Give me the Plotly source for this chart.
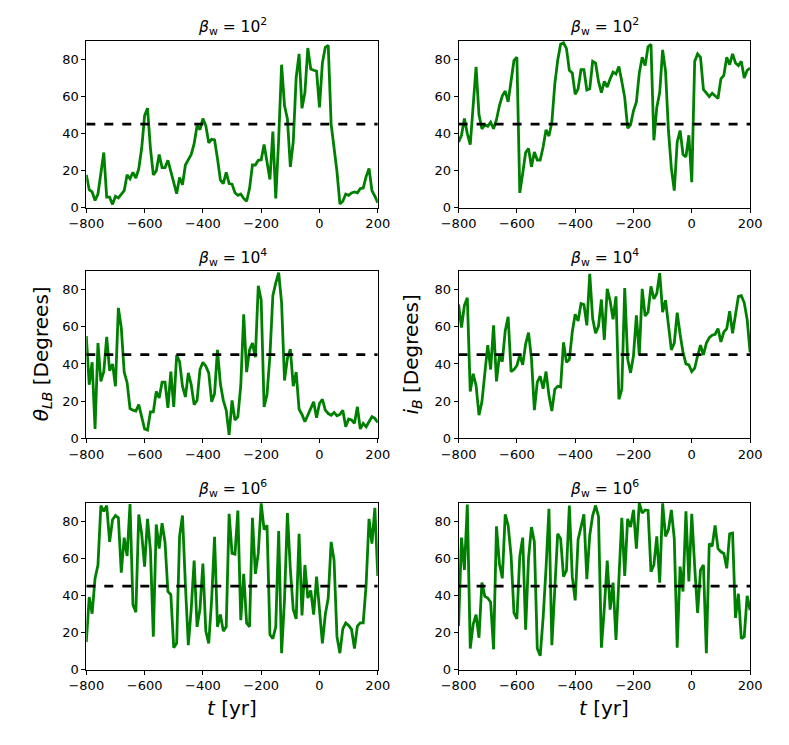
# Six panels of field angle vs time for three wind betas

import plotly.graph_objects as go

# Time axis (yr), one sample every 10 yr
years = list(range(-800, 201, 10))

# Left column: theta_LB
theta_b2 = [17.7, 9.7, 8.5, 3.9, 7.4, 17.7, 29.7, 5.7, 5.7, 1.8,
            6.2, 5.3, 7.0, 9.2, 17.7, 15.6, 19.0, 16.0, 21.0, 32.0,
            49.6, 53.6, 32.0, 17.7, 19.8, 28.7, 21.6, 21.6, 25.5, 19.5,
            12.4, 7.6, 16.3, 12.4, 23.0, 26.0, 28.7, 34.5, 44.2, 42.0,
            48.0, 44.2, 35.0, 36.8, 36.5, 26.5, 15.0, 13.0, 19.0, 13.0,
            12.7, 8.1, 6.7, 7.4, 5.0, 3.5, 10.3, 23.0, 23.0, 25.5,
            25.8, 34.0, 24.8, 15.2, 41.0, 5.0, 37.0, 77.0, 55.0, 47.8,
            22.0, 35.4, 70.0, 82.8, 53.5, 62.0, 86.0, 74.7, 74.0, 73.6,
            54.0, 78.0, 86.4, 87.4, 45.0, 33.6, 19.5, 2.1, 3.5, 7.4,
            6.7, 8.0, 8.5, 8.0, 10.3, 10.6, 16.8, 21.2, 9.2, 6.2,
            2.7]
theta_b4 = [55.0, 28.8, 40.9, 5.0, 51.2, 30.6, 35.9, 54.6, 36.4, 40.0,
            28.0, 70.2, 59.5, 35.6, 29.9, 16.0, 15.1, 14.6, 18.1, 11.6,
            5.0, 4.4, 14.2, 14.2, 25.2, 21.7, 30.2, 30.2, 16.4, 35.9,
            16.9, 44.8, 41.2, 28.0, 22.2, 35.2, 28.8, 18.1, 20.4, 37.0,
            40.9, 38.8, 35.2, 19.6, 24.0, 47.6, 29.3, 20.4, 15.1, 1.8,
            20.4, 9.8, 11.6, 28.4, 66.7, 35.6, 47.6, 51.2, 43.6, 82.1,
            74.3, 16.9, 23.5, 44.4, 76.8, 83.6, 89.2, 72.9, 31.1, 43.0,
            48.0, 28.0, 35.6, 15.6, 12.8, 8.9, 12.4, 16.0, 19.6, 11.0,
            18.7, 21.0, 15.1, 13.3, 12.4, 13.9, 12.1, 12.8, 15.1, 6.2,
            10.3, 9.8, 8.0, 16.9, 5.0, 8.0, 6.2, 8.9, 11.6, 10.7,
            8.5]
theta_b6 = [14.9, 39.1, 30.2, 49.2, 56.4, 88.4, 85.3, 88.4, 68.8, 80.7,
            83.0, 81.8, 52.3, 71.1, 61.2, 89.2, 35.0, 30.9, 83.6, 73.2,
            55.5, 81.2, 64.4, 17.8, 78.2, 65.2, 78.9, 68.8, 42.1, 40.4,
            11.9, 14.2, 71.8, 83.0, 45.7, 13.2, 32.7, 58.7, 23.1, 32.7,
            57.2, 20.8, 14.2, 37.7, 71.5, 23.1, 29.7, 20.8, 23.1, 83.9,
            62.6, 62.2, 85.7, 26.7, 51.6, 25.2, 23.1, 81.8, 51.6, 62.6,
            89.6, 75.4, 77.7, 19.0, 16.7, 23.1, 74.7, 8.9, 37.7, 84.3,
            54.0, 32.4, 27.4, 73.2, 29.2, 56.4, 38.6, 42.7, 29.7, 50.1,
            32.4, 14.2, 29.7, 38.6, 68.8, 59.0, 17.8, 8.9, 22.0, 25.2,
            23.8, 21.7, 11.4, 23.5, 25.2, 25.2, 45.7, 81.2, 67.9, 87.1,
            50.5]

# Right column: i_B
inc_b2 = [35.4, 39.0, 48.0, 39.8, 34.0, 56.6, 75.8, 50.0, 42.5, 44.6,
          43.9, 46.0, 42.5, 47.4, 54.9, 60.2, 62.8, 57.0, 69.0, 79.3,
          81.0, 8.0, 18.6, 29.7, 31.9, 22.0, 30.0, 25.7, 25.7, 32.7,
          42.0, 38.6, 46.0, 66.4, 79.3, 88.0, 88.8, 85.8, 74.0, 72.6,
          61.0, 64.0, 74.3, 74.3, 63.4, 64.0, 78.8, 77.9, 68.0, 62.0,
          68.0, 65.0, 69.4, 73.0, 72.0, 76.0, 68.0, 59.3, 42.8, 44.6,
          52.2, 57.0, 72.6, 81.0, 76.5, 86.7, 88.0, 36.3, 54.0, 62.0,
          85.0, 73.5, 41.6, 21.2, 9.2, 35.4, 41.6, 28.7, 27.4, 39.0,
          13.8, 78.8, 82.8, 81.0, 63.7, 62.0, 59.8, 61.6, 60.2, 58.8,
          69.4, 71.2, 81.0, 77.0, 82.8, 77.9, 76.5, 78.8, 69.9, 74.0,
          75.2]
inc_b4 = [72.0, 59.6, 71.5, 75.6, 25.2, 34.7, 28.4, 12.4, 19.6, 35.6,
          50.1, 37.0, 60.8, 30.6, 44.4, 41.2, 57.8, 65.4, 35.9, 37.0,
          39.1, 44.8, 39.5, 50.7, 56.9, 43.0, 15.1, 30.2, 33.4, 26.7,
          35.9, 23.1, 14.6, 26.3, 28.0, 27.6, 51.6, 40.9, 42.3, 57.2,
          66.7, 63.1, 72.5, 72.0, 60.8, 88.5, 64.4, 56.5, 60.4, 74.7,
          53.0, 80.4, 73.8, 64.0, 76.4, 21.0, 26.3, 80.9, 42.7, 35.2,
          44.4, 66.1, 44.8, 80.4, 65.8, 67.9, 81.8, 75.0, 77.9, 88.9,
          67.9, 74.3, 62.2, 47.6, 51.2, 67.6, 56.0, 46.2, 40.0, 39.5,
          35.9, 37.7, 44.4, 50.1, 44.8, 51.2, 54.2, 55.5, 56.0, 59.0,
          51.9, 57.2, 59.0, 68.4, 56.5, 65.4, 76.4, 76.8, 72.9, 64.0,
          46.2]
inc_b6 = [23.5, 71.1, 53.7, 88.9, 11.4, 24.4, 29.7, 17.2, 46.9, 39.5,
          38.6, 36.3, 11.0, 77.2, 57.2, 49.2, 83.6, 77.7, 61.7, 30.6,
          27.4, 61.2, 71.1, 21.5, 59.9, 76.8, 68.8, 11.4, 7.5, 27.9,
          54.6, 86.6, 13.2, 40.4, 73.2, 70.6, 50.1, 53.3, 88.4, 50.1,
          37.3, 70.0, 77.7, 83.6, 48.7, 72.4, 83.0, 88.4, 82.5, 11.9,
          33.2, 58.7, 32.4, 46.9, 16.0, 46.6, 81.8, 50.5, 81.2, 76.8,
          86.0, 65.2, 89.8, 84.3, 86.0, 85.7, 52.8, 56.4, 71.8, 46.9,
          89.6, 71.8, 75.4, 86.0, 70.6, 11.9, 55.5, 42.1, 85.3, 47.5,
          83.9, 55.5, 30.6, 53.7, 56.4, 8.9, 67.9, 66.5, 77.7, 65.2,
          63.5, 62.6, 54.6, 73.2, 73.6, 27.9, 40.9, 16.7, 17.8, 39.8,
          32.0]

titles = ["<i>β</i><sub>w</sub> = 10<sup>2</sup>",
          "<i>β</i><sub>w</sub> = 10<sup>4</sup>",
          "<i>β</i><sub>w</sub> = 10<sup>6</sup>"]
xticks = [-800, -600, -400, -200, 0, 200]
xticklabels = ["\u2212800", "\u2212600", "\u2212400", "\u2212200", "0", "200"]
yticks = [0, 20, 40, 60, 80]
threshold = 45

W, H = 789, 745
col_px = [(71, 374), (458, 761)]
row_px = [(41, 210), (274, 443), (508, 677)]


def px(v):
    return v / W


def py(v):
    return 1 - v / H


fig = go.Figure()

panels = [[theta_b2, inc_b2], [theta_b4, inc_b4], [theta_b6, inc_b6]]

n = 0
for r in range(3):
    for c in range(2):
        n += 1
        xa = "x" if n == 1 else "x%d" % n
        ya = "y" if n == 1 else "y%d" % n
        xkey = "xaxis" if n == 1 else "xaxis%d" % n
        ykey = "yaxis" if n == 1 else "yaxis%d" % n

        fig.add_trace(go.Scatter(
            x=years, y=panels[r][c], mode="lines",
            line=dict(color="green", width=2.8),
            xaxis=xa, yaxis=ya, showlegend=False, hoverinfo="skip"
        ))
        fig.add_trace(go.Scatter(
            x=[years[0], years[-1]], y=[threshold, threshold], mode="lines",
            line=dict(color="black", width=2.8, dash="dash"),
            xaxis=xa, yaxis=ya, showlegend=False, hoverinfo="skip"
        ))

        x0, x1 = col_px[c]
        y0, y1 = row_px[r]
        fig.layout[xkey] = dict(
            domain=[px(x0), px(x1)], anchor=ya, range=[-800, 200],
            tickvals=xticks, ticktext=xticklabels,
            showgrid=False, zeroline=False, showline=True, mirror=True,
            linecolor="black", linewidth=1, ticks="outside", ticklen=4,
            tickcolor="black", tickfont=dict(size=13, color="black")
        )
        fig.layout[ykey] = dict(
            domain=[py(y1), py(y0)], anchor=xa, range=[0, 90],
            tickvals=yticks, showgrid=False, zeroline=False, showline=True,
            mirror=True, linecolor="black", linewidth=1, ticks="outside",
            ticklen=4, tickcolor="black", tickfont=dict(size=13, color="black")
        )

        fig.add_annotation(
            text=titles[r], x=px((x0 + x1) / 2), y=py(y0 - 14),
            xref="paper", yref="paper", xanchor="center", yanchor="middle",
            showarrow=False, font=dict(size=15.5, color="black")
        )

# Axis labels
fig.add_annotation(text="<i>θ<sub>LB</sub></i> [Degrees]", x=px(25), y=py(358),
                   xref="paper", yref="paper", xanchor="center", yanchor="middle",
                   textangle=-90, showarrow=False, font=dict(size=20, color="black"))
fig.add_annotation(text="<i>i<sub>B</sub></i> [Degrees]", x=px(410), y=py(358),
                   xref="paper", yref="paper", xanchor="center", yanchor="middle",
                   textangle=-90, showarrow=False, font=dict(size=20, color="black"))
for c in range(2):
    fig.add_annotation(text="<i>t</i> [yr]", x=px(sum(col_px[c]) / 2), y=py(716),
                       xref="paper", yref="paper", xanchor="center", yanchor="middle",
                       showarrow=False, font=dict(size=20, color="black"))

fig.update_layout(
    width=W, height=H,
    margin=dict(l=0, r=0, t=0, b=0),
    paper_bgcolor="white", plot_bgcolor="white",
    font=dict(family="DejaVu Sans", color="black")
)

# drop the browser's default page margin so the figure sits at the corner
fig.write_html("out.html", config={"displayModeBar": False},
               post_script="document.body.style.margin = '0';")
